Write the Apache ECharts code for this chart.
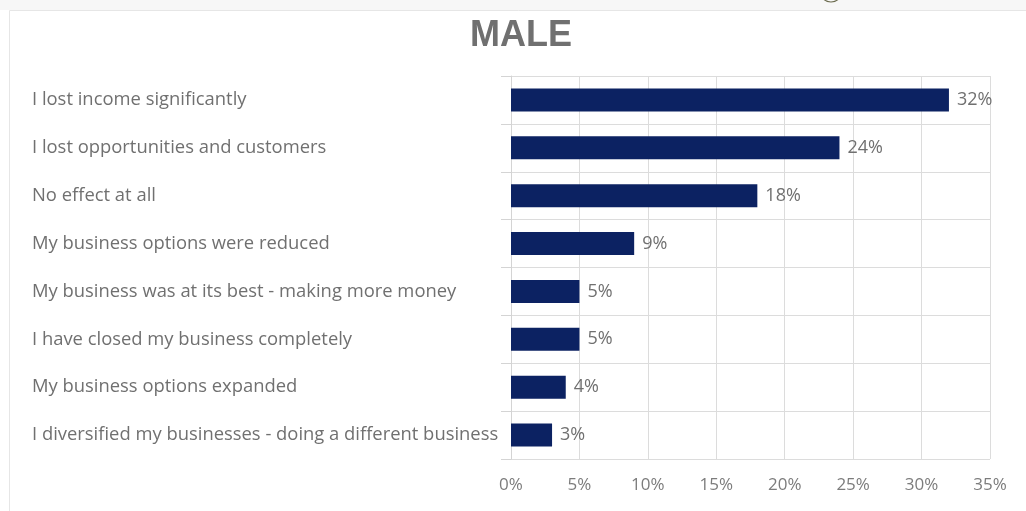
<!DOCTYPE html>
<html>
<head>
<meta charset="utf-8">
<script src="https://cdn.jsdelivr.net/npm/echarts@6/dist/echarts.min.js"></script>
<style>
  html, body { margin: 0; padding: 0; background: #ffffff; }
  #chart { width: 1026px; height: 511px; }
</style>
</head>
<body>
<div id="chart"></div>
<script>
// Effect on business (male respondents), share of answers
const categories = [
  'I lost income significantly',
  'I lost opportunities and customers',
  'No effect at all',
  'My business options were reduced',
  'My business was at its best - making more money',
  'I have closed my business completely',
  'My business options expanded',
  'I diversified my businesses - doing a different business'
];
const shares = [32, 24, 18, 9, 5, 5, 4, 3];
const axisMax = 35;
const axisStep = 5;

const chart = echarts.init(document.getElementById('chart'), null, { renderer: 'canvas' });

chart.setOption({
  backgroundColor: '#ffffff',
  animation: false,
  title: {
    text: 'MALE',
    left: 516,
    textAlign: 'center',
    top: 13,
    textStyle: {
      fontFamily: 'Liberation Sans, Arial, sans-serif',
      fontSize: 36,
      fontWeight: 'bold',
      color: '#707070'
    }
  },
  graphic: [
    {
      type: 'rect',
      shape: { x: 0, y: 0, width: 1026, height: 10 },
      style: { fill: '#f7f7f7' },
      silent: true
    },
    {
      type: 'rect',
      shape: { x: 9.5, y: 10.5, width: 1100, height: 600 },
      style: { fill: 'none', stroke: '#e6e6e6', lineWidth: 1 },
      silent: true
    },
    {
      type: 'circle',
      shape: { cx: 831, cy: -9, r: 11 },
      style: { fill: 'none', stroke: '#6b6b4e', lineWidth: 1.2 },
      silent: true
    }
  ],
  grid: {
    left: 511,
    right: 36,
    top: 76,
    bottom: 52,
    containLabel: false
  },
  xAxis: {
    type: 'value',
    min: 0,
    max: axisMax,
    interval: axisStep,
    axisLine: { show: false },
    axisTick: { show: false },
    axisLabel: {
      formatter: '{value}%',
      margin: 18,
      fontFamily: 'Open Sans, sans-serif',
      fontSize: 17,
      color: '#7c7c7c'
    },
    splitLine: { show: true, lineStyle: { color: '#dcdcdc', width: 1 } }
  },
  yAxis: {
    type: 'category',
    data: categories,
    inverse: true,
    axisLine: { show: true, lineStyle: { color: '#d4d4d4', width: 1 } },
    axisTick: { show: true, length: 10, lineStyle: { color: '#d4d4d4' } },
    splitLine: { show: true, lineStyle: { color: '#dcdcdc', width: 1 } },
    axisLabel: {
      align: 'left',
      margin: 479,
      fontFamily: 'Open Sans, sans-serif',
      fontSize: 18.4,
      color: '#707070'
    }
  },
  series: [
    {
      type: 'bar',
      data: shares,
      barWidth: 23,
      itemStyle: { color: '#0c2262' },
      label: {
        show: true,
        position: 'right',
        distance: 8,
        formatter: '{c}%',
        fontFamily: 'Open Sans, sans-serif',
        fontSize: 18,
        color: '#707070'
      }
    }
  ]
});
</script>
</body>
</html>
